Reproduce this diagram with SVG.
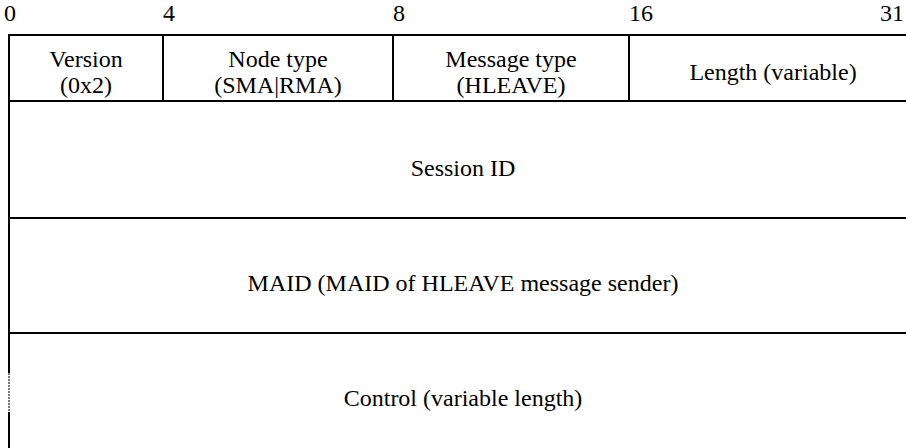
<svg xmlns="http://www.w3.org/2000/svg" width="906" height="448" viewBox="0 0 906 448">
<style>
text{font-family:"Liberation Serif","Times New Roman",serif;font-size:24px;fill:#000}
.c{text-anchor:middle}
.ln{stroke:#000;stroke-width:2;fill:none}
</style>
<rect x="0" y="0" width="906" height="448" fill="#fff"/>
<g id="ruler" font-family="Liberation Serif, serif">
<text x="4" y="21">0</text>
<text x="163" y="21">4</text>
<text x="393" y="21">8</text>
<text x="629" y="21">16</text>
<text x="904" y="21" text-anchor="end">31</text>
</g>
<g id="connectors">
<line class="ln" x1="9" y1="34" x2="9" y2="373"/>
<line x1="9" y1="373" x2="9" y2="412" stroke="#777" stroke-width="2" stroke-dasharray="2,1"/>
<line class="ln" x1="9" y1="412" x2="9" y2="448"/>
<line class="ln" x1="8" y1="35" x2="906" y2="35"/>
<line class="ln" x1="8" y1="101" x2="906" y2="101"/>
<line class="ln" x1="8" y1="218" x2="906" y2="218"/>
<line class="ln" x1="8" y1="333" x2="906" y2="333"/>
<line class="ln" x1="163" y1="35" x2="163" y2="101"/>
<line class="ln" x1="393" y1="35" x2="393" y2="101"/>
<line class="ln" x1="629" y1="35" x2="629" y2="101"/>
</g>
<g id="version" font-family="Liberation Serif, serif"><text class="c" x="86" y="67">Version</text><text class="c" x="86" y="93">(0x2)</text></g>
<g id="nodetype" font-family="Liberation Serif, serif"><text class="c" x="278" y="67">Node type</text><text class="c" x="278" y="93">(SMA|RMA)</text></g>
<g id="msgtype" font-family="Liberation Serif, serif"><text class="c" x="511" y="67">Message type</text><text class="c" x="511" y="93">(HLEAVE)</text></g>
<g id="length" font-family="Liberation Serif, serif"><text class="c" x="773" y="80">Length (variable)</text></g>
<g id="session" font-family="Liberation Serif, serif"><text class="c" x="463" y="176">Session ID</text></g>
<g id="maid" font-family="Liberation Serif, serif"><text class="c" x="463" y="291">MAID (MAID of HLEAVE message sender)</text></g>
<g id="control" font-family="Liberation Serif, serif"><text class="c" x="463" y="406">Control (variable length)</text></g>
</svg>
